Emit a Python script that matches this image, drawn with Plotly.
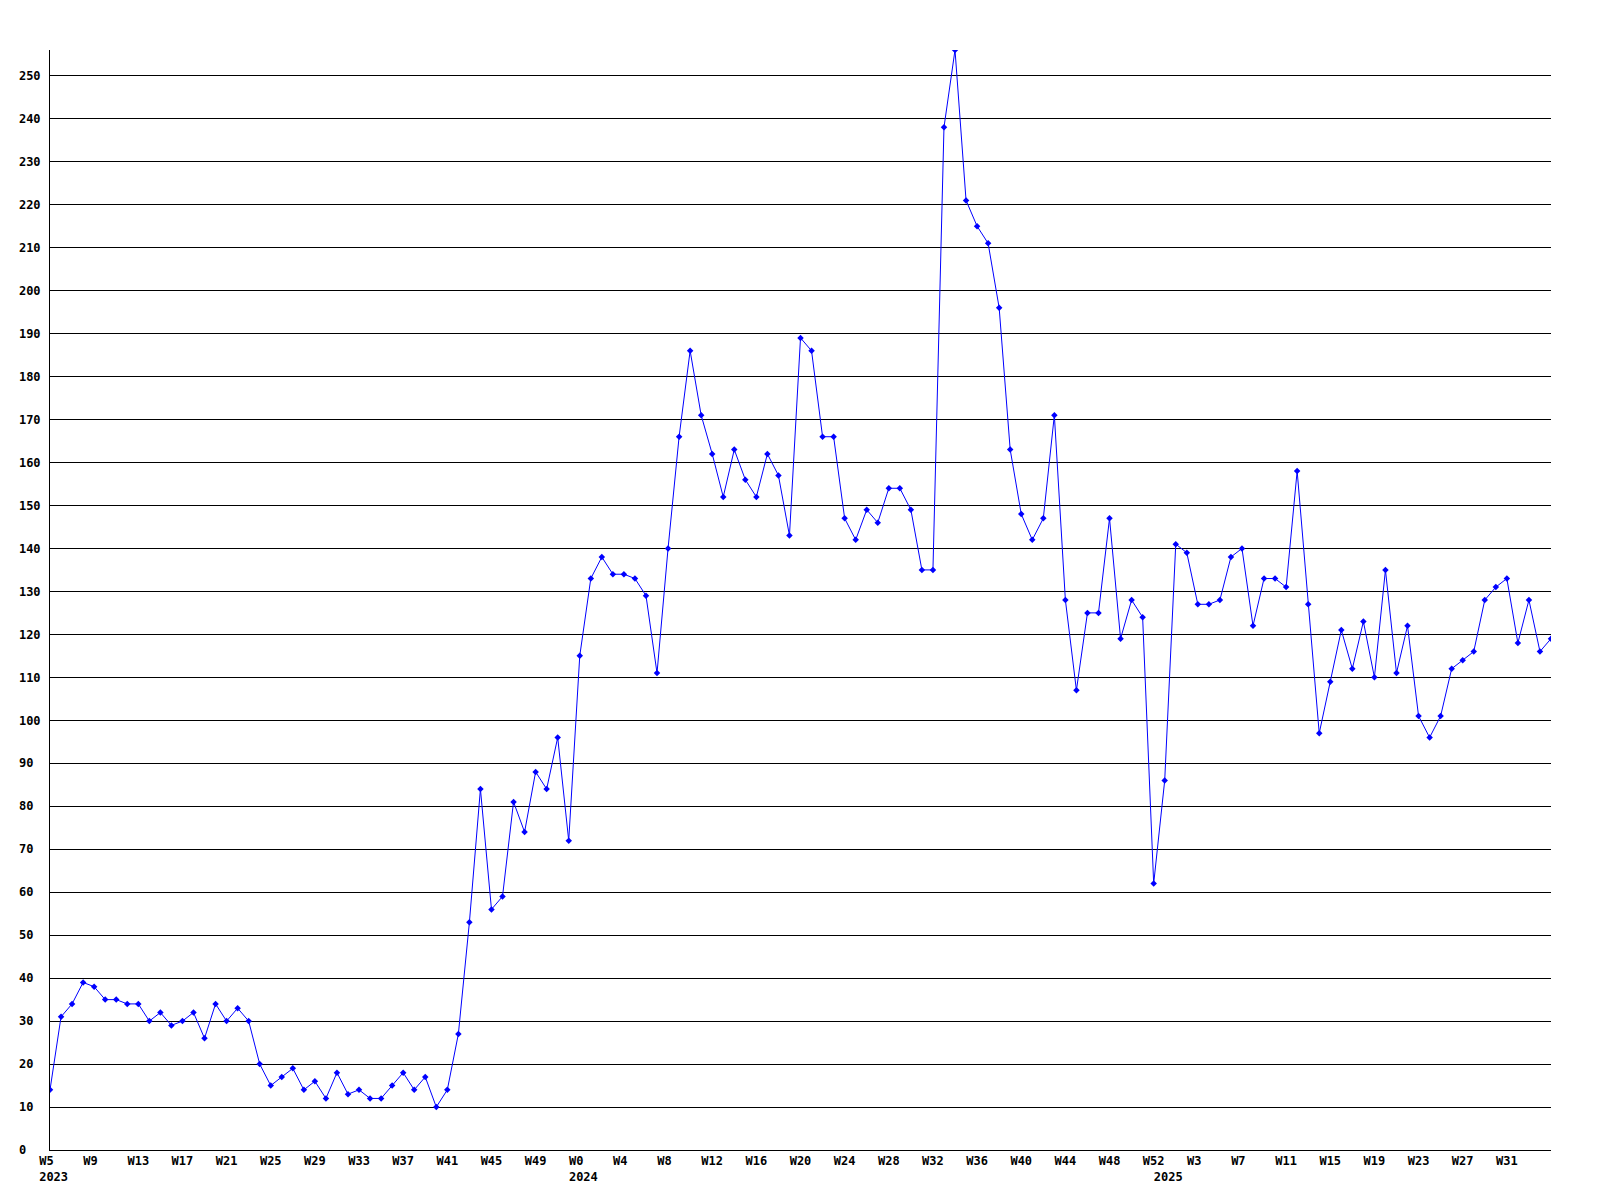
import plotly.graph_objects as go

NBSP = "\u00a0"

# Weekly series, 2023 W5 .. 2025 W35
weeks_2023 = list(range(5, 53))
values_2023 = [14, 31, 34, 39, 38, 35, 35, 34, 34, 30, 32, 29, 30, 32, 26, 34,
               30, 33, 30, 20, 15, 17, 19, 14, 16, 12, 18, 13, 14, 12, 12, 15,
               18, 14, 17, 10, 14, 27, 53, 84, 56, 59, 81, 74, 88, 84, 96, 72]

weeks_2024 = list(range(0, 53))
values_2024 = [115, 133, 138, 134, 134, 133, 129, 111, 140, 166, 186, 171, 162,
               152, 163, 156, 152, 162, 157, 143, 189, 186, 166, 166, 147, 142,
               149, 146, 154, 154, 149, 135, 135, 238, 256, 221, 215, 211, 196,
               163, 148, 142, 147, 171, 128, 107, 125, 125, 147, 119, 128, 124, 62]

weeks_2025 = list(range(0, 36))
values_2025 = [86, 141, 139, 127, 127, 128, 138, 140, 122, 133, 133, 131, 158,
               127, 97, 109, 121, 112, 123, 110, 135, 111, 122, 101, 96, 101,
               112, 114, 116, 128, 131, 133, 118, 128, 116, 119]

years = [2023, 2024, 2025]
week_lists = [weeks_2023, weeks_2024, weeks_2025]
value_lists = [values_2023, values_2024, values_2025]

y_ticks = list(range(0, 251, 10))

# Build combined sequence
labels = []
values = []
year_start = {}
for yr, wks, vals in zip(years, week_lists, value_lists):
    for w, v in zip(wks, vals):
        if w == wks[0]:
            year_start[len(labels)] = yr
        labels.append((yr, w))
        values.append(v)
xs = list(range(len(values)))


def pad(s, n=4):
    return s + NBSP * (n - len(s))


tickvals = []
ticktext = []
for i, (yr, w) in enumerate(labels[:-1]):
    wk_label = i % 4 == 0
    yr_label = i in year_start
    if wk_label or yr_label:
        top = NBSP + pad("W%d" % w) if wk_label else NBSP * 5
        bottom = "<br>" + NBSP + str(year_start[i]) if yr_label else ""
        tickvals.append(i)
        ticktext.append(top + bottom)

fig = go.Figure()
fig.add_trace(go.Scatter(
    x=xs, y=values, mode="lines+markers",
    line=dict(color="#0000ff", width=1),
    marker=dict(symbol="diamond", size=5, color="#0000ff"),
    hoverinfo="skip",
))

font = dict(family="DejaVu Sans Mono", size=12, color="black", weight="bold")

# page body has an 8px margin; size the figure so the page is exactly 1600x1200
fig.update_layout(
    width=1584, height=1184,
    margin=dict(l=42, r=41, t=42, b=42),
    paper_bgcolor="white", plot_bgcolor="white",
    showlegend=False,
    font=font,
    xaxis=dict(
        range=[0, len(values) - 1],
        tickmode="array", tickvals=tickvals, ticktext=ticktext,
        showgrid=False, zeroline=False, automargin=False,
        showline=True, linecolor="black", linewidth=1,
        ticks="", tickangle=0, tickfont=font,
    ),
    yaxis=dict(
        range=[0, 256],
        tickmode="array", tickvals=y_ticks,
        ticktext=[pad(str(v), 3) for v in y_ticks],
        showgrid=True, gridcolor="black", gridwidth=1,
        zeroline=False, automargin=False,
        showline=True, linecolor="black", linewidth=1,
        ticks="", ticklabelstandoff=6, tickfont=font,
    ),
)

fig.write_html("out.html")
